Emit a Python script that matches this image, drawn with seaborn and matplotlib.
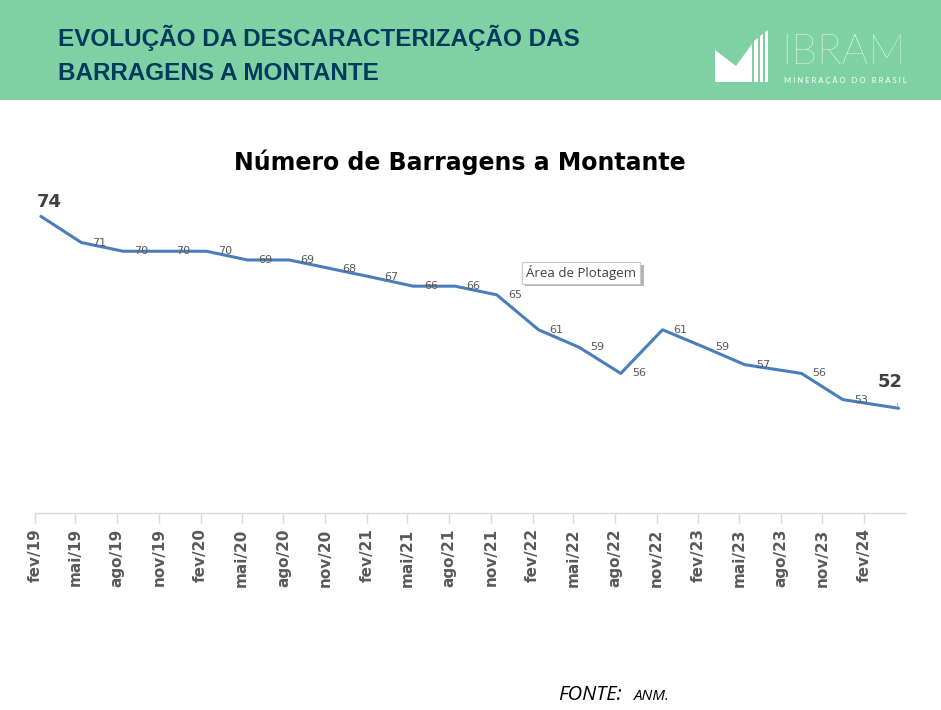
import pandas as pd
import matplotlib.pyplot as plt
import matplotlib.patches as mpatches
import seaborn as sns

# =========================
# DATA
# =========================

point_dates = [
    "2019-02-14", "2019-05-14", "2019-08-14", "2019-11-14",
    "2020-02-14", "2020-05-14", "2020-08-14", "2020-11-14",
    "2021-02-14", "2021-05-14", "2021-08-14", "2021-11-14",
    "2022-02-14", "2022-05-14", "2022-08-14", "2022-11-14",
    "2023-02-14", "2023-05-14", "2023-09-16", "2023-12-16",
    "2024-04-17",
]

barragens = [74, 71, 70, 70, 70, 69, 69, 68, 67, 66, 66, 65,
             61, 59, 56, 61, 59, 57, 56, 53, 52]

tick_dates = [
    "2019-02-01", "2019-05-01", "2019-08-01", "2019-11-01",
    "2020-02-01", "2020-05-01", "2020-08-01", "2020-11-01",
    "2021-02-01", "2021-05-01", "2021-08-01", "2021-11-01",
    "2022-02-01", "2022-05-01", "2022-08-01", "2022-11-01",
    "2023-02-01", "2023-05-01", "2023-08-01", "2023-11-01",
    "2024-02-01",
]

tick_labels = [
    "fev/19", "mai/19", "ago/19", "nov/19",
    "fev/20", "mai/20", "ago/20", "nov/20",
    "fev/21", "mai/21", "ago/21", "nov/21",
    "fev/22", "mai/22", "ago/22", "nov/22",
    "fev/23", "mai/23", "ago/23", "nov/23",
    "fev/24",
]

df = pd.DataFrame({
    "data": pd.to_datetime(point_dates),
    "barragens": barragens,
})

# =========================
# STYLE
# =========================

sns.set_style("white")
plt.rcParams['font.family'] = ['DejaVu Sans']

W, H = 941, 710


def fx(x):
    return x / W


def fy(y):
    return 1 - y / H


fig = plt.figure(figsize=(9.41, 7.10), dpi=100)
fig.patch.set_facecolor("white")

# =========================
# HEADER BAND
# =========================

fig.patches.append(mpatches.Rectangle(
    (0, fy(100)), 1, 100 / H,
    transform=fig.transFigure, facecolor="#7FD1A3", edgecolor="none", zorder=0
))

fig.text(fx(58), fy(38), "EVOLUÇÃO DA DESCARACTERIZAÇÃO DAS",
         family=['Liberation Sans'], weight="bold",
         fontsize=17.5, color="#003A5D", va="center", ha="left")
fig.text(fx(58), fy(73), "BARRAGENS A MONTANTE",
         family=['Liberation Sans'], weight="bold",
         fontsize=17.5, color="#003A5D", va="center", ha="left")

# logo icon
logo_shapes = [
    [(715, 50), (736, 66), (752, 44), (752, 82), (715, 82)],
    [(754, 41), (758, 38), (758, 82), (754, 82)],
    [(760, 36), (763, 34), (763, 82), (760, 82)],
    [(765, 32), (768, 30), (768, 82), (765, 82)],
]
for shape in logo_shapes:
    fig.patches.append(mpatches.Polygon(
        [(fx(a), fy(b)) for a, b in shape], closed=True,
        transform=fig.transFigure, facecolor="white", edgecolor="none"
    ))

fig.text(fx(781), fy(53), "IBRAM", family=['Lato', 'DejaVu Sans'],
         weight="light", fontsize=30, color="white", va="center", ha="left")
fig.text(fx(784), fy(80), "M I N E R A Ç Ã O   D O   B R A S I L",
         family=['Lato', 'DejaVu Sans'],
         fontsize=5.5, color="white", va="center", ha="left")

# =========================
# LINE CHART
# =========================

ax = fig.add_axes([fx(35), fy(513), fx(905) - fx(35), (513 - 164) / H])

sns.lineplot(data=df, x="data", y="barragens", ax=ax,
             color="#4A7EBB", linewidth=2.2)

ax.set_xlim(pd.Timestamp("2019-02-01"), pd.Timestamp("2024-05-01"))
ax.set_ylim(40, 80)

ax.set_xticks(pd.to_datetime(tick_dates))
ax.set_xticklabels(tick_labels, rotation=90, fontsize=11, weight="bold",
                   color="#595959")
ax.set_yticks([])
ax.set_xlabel("")
ax.set_ylabel("")
ax.tick_params(axis="x", length=7, color="#D9D9D9", width=1, pad=4,
               bottom=True)

for side in ["top", "right", "left"]:
    ax.spines[side].set_visible(False)
ax.spines["bottom"].set_color("#D9D9D9")
ax.spines["bottom"].set_linewidth(1)

# data labels
n = len(df)
for i, row in df.iterrows():
    if i == 0:
        ax.annotate(str(row["barragens"]), (row["data"], row["barragens"]),
                    xytext=(6, 10.5), textcoords="offset points",
                    ha="center", va="center", fontsize=13, weight="bold",
                    color="#404040")
    elif i == n - 1:
        ax.annotate(str(row["barragens"]), (row["data"], row["barragens"]),
                    xytext=(-6, 19), textcoords="offset points",
                    ha="center", va="center", fontsize=13, weight="bold",
                    color="#404040",
                    arrowprops=dict(arrowstyle="-", color="#A6A6A6", lw=0.7,
                                    shrinkA=7, shrinkB=1))
    else:
        ax.annotate(str(row["barragens"]), (row["data"], row["barragens"]),
                    xytext=(8, 0), textcoords="offset points",
                    ha="left", va="center", fontsize=8, color="#595959")

# chart title
fig.text(fx(460), fy(162), "Número de Barragens a Montante",
         fontsize=17, weight="bold", color="black", ha="center", va="center")

# excel tooltip (with shadow)
fig.patches.append(mpatches.Rectangle(
    (fx(525), fy(286)), (644 - 525) / W, 21 / H,
    transform=fig.transFigure, facecolor="#B4B4B4", edgecolor="none"
))
fig.text(fx(581), fy(273), "Área de Plotagem", fontsize=9.5, color="#404040",
         family=['Open Sans', 'DejaVu Sans'], ha="center", va="center",
         bbox=dict(boxstyle="square,pad=0.3", facecolor="white",
                   edgecolor="#C8C8C8", linewidth=0.8))

# =========================
# SOURCE
# =========================

fig.text(fx(558), fy(695), "FONTE:", family=['Open Sans', 'DejaVu Sans'],
         style="italic", fontsize=14.5, color="black", ha="left", va="center")
fig.text(fx(634), fy(697), "ANM.", family=['Open Sans', 'DejaVu Sans'],
         style="italic", fontsize=11, color="black", ha="left", va="center")

plt.savefig("out.png", dpi=100)
plt.close()
